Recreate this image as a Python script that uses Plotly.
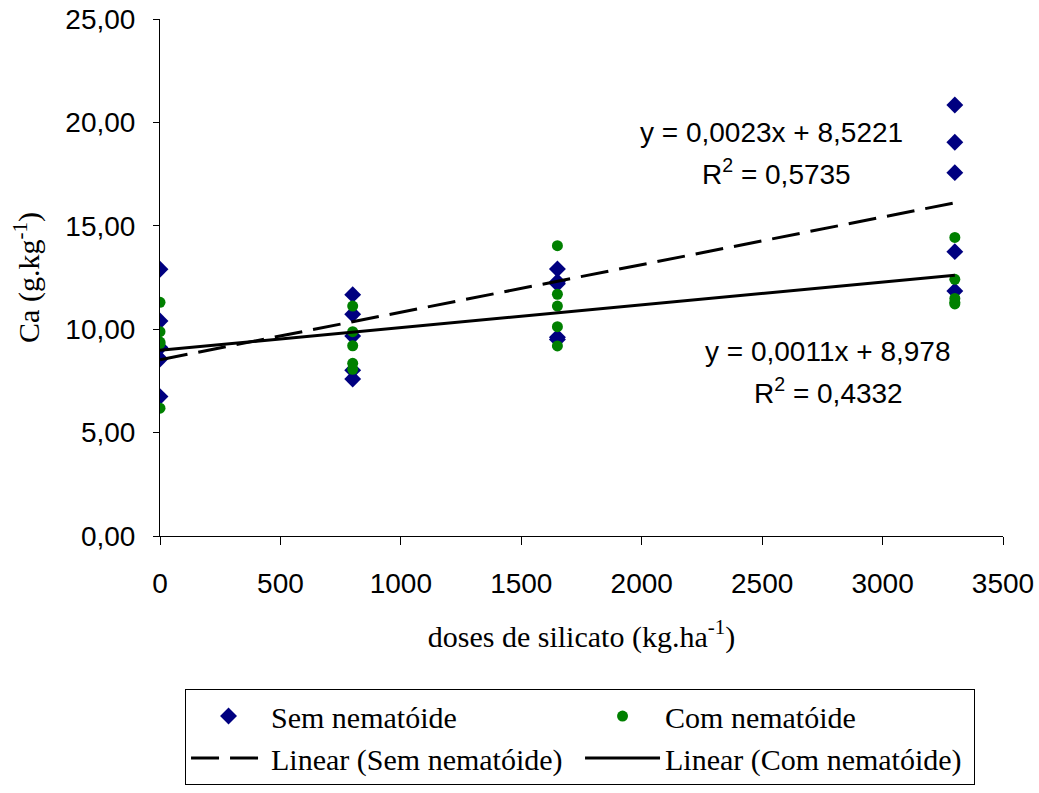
import plotly.graph_objects as go

# Data
doses_sem = [0]*5 + [800]*5 + [1650]*5 + [3300]*5
ca_sem = [12.90, 10.40, 9.11, 8.56, 6.74,
          11.67, 10.72, 9.67, 8.02, 7.59,
          12.91, 12.30, 12.20, 9.61, 9.50,
          20.84, 19.04, 17.57, 13.75, 11.85]

doses_com = [0]*5 + [800]*5 + [1650]*5 + [3300]*5
ca_com = [11.30, 9.88, 9.38, 9.30, 6.18,
          11.12, 9.88, 9.20, 8.35, 8.06,
          14.04, 11.69, 11.12, 10.12, 9.19,
          14.44, 12.41, 11.49, 11.30, 11.22]

# Trend line coefficients (as printed on the chart)
slope_sem, intercept_sem, r2_sem = 0.0023, 8.5221, 0.5735
slope_com, intercept_com, r2_com = 0.0011, 8.978, 0.4332

x_tick_vals = [0, 500, 1000, 1500, 2000, 2500, 3000, 3500]
y_tick_vals = [0, 5, 10, 15, 20, 25]
y_tick_text = ["0,00", "5,00", "10,00", "15,00", "20,00", "25,00"]

SERIF = "Liberation Serif, Times New Roman, serif"
SANS = "Liberation Sans, Arial, sans-serif"

fig = go.Figure()
fig.add_trace(go.Scatter(x=doses_sem, y=ca_sem, mode="markers", name="Sem nematóide",
                         marker=dict(symbol="diamond", size=13, color="#000080")))
fig.add_trace(go.Scatter(x=doses_com, y=ca_com, mode="markers", name="Com nematóide",
                         marker=dict(symbol="circle", size=11, color="#008000")))

xs = [min(doses_sem), max(doses_sem)]
fig.add_trace(go.Scatter(x=xs, y=[slope_sem*v + intercept_sem for v in xs], mode="lines",
                         name="Linear (Sem nematóide)",
                         line=dict(color="black", width=3, dash="28px,11px")))
xc = [min(doses_com), max(doses_com)]
fig.add_trace(go.Scatter(x=xc, y=[slope_com*v + intercept_com for v in xc], mode="lines",
                         name="Linear (Com nematóide)",
                         line=dict(color="black", width=3)))

def fmt(v, d):
    return f"{v:.{d}f}".replace(".", ",")

EQ_FONT = dict(family=SANS, size=28, color="black")
fig.add_annotation(x=2537, y=19.49, xref="x", yref="y", showarrow=False,
                   text=f"y = {fmt(slope_sem,4)}x + {fmt(intercept_sem,4)}", font=EQ_FONT)
fig.add_annotation(x=2560, y=17.6, xref="x", yref="y", showarrow=False,
                   text=f"R<sup>2</sup> = {fmt(r2_sem,4)}", font=EQ_FONT)
fig.add_annotation(x=2770, y=8.9, xref="x", yref="y", showarrow=False,
                   text=f"y = {fmt(slope_com,4)}x + {fmt(intercept_com,3)}", font=EQ_FONT)
fig.add_annotation(x=2775, y=7.0, xref="x", yref="y", showarrow=False,
                   text=f"R<sup>2</sup> = {fmt(r2_com,4)}", font=EQ_FONT)

fig.update_layout(
    width=1039, height=793,
    margin=dict(l=160, r=36, t=19, b=257, autoexpand=False),
    paper_bgcolor="white", plot_bgcolor="white",
    showlegend=True,
    legend=dict(orientation="h", x=0.0297, y=-0.296, xanchor="left", yanchor="top",
                bordercolor="black", borderwidth=1, bgcolor="white",
                font=dict(family=SERIF, size=30, color="black"),
                itemwidth=75, entrywidth=304, entrywidthmode="pixels",
                traceorder="normal"),
    xaxis=dict(range=[0, 3500], tickvals=x_tick_vals, showgrid=False, zeroline=False,
               showline=True, linecolor="black", linewidth=1, automargin=False,
               ticks="outside", ticklen=8, tickcolor="black", ticklabelstandoff=14,
               tickfont=dict(family=SANS, size=28, color="black"),
               title=dict(text="doses de silicato (kg.ha<sup>-1</sup>)",
                          font=dict(family=SERIF, size=30, color="black"), standoff=28)),
    yaxis=dict(range=[0, 25], tickvals=y_tick_vals, ticktext=y_tick_text, showgrid=False,
               zeroline=False, showline=True, linecolor="black", linewidth=1, automargin=False,
               ticks="outside", ticklen=6, tickcolor="black", ticklabelstandoff=12,
               tickfont=dict(family=SANS, size=28, color="black"),
               title=dict(text="Ca (g.kg<sup>-1</sup>)",
                          font=dict(family=SERIF, size=30, color="black"), standoff=16)),
)

fig.write_html("out.html")
